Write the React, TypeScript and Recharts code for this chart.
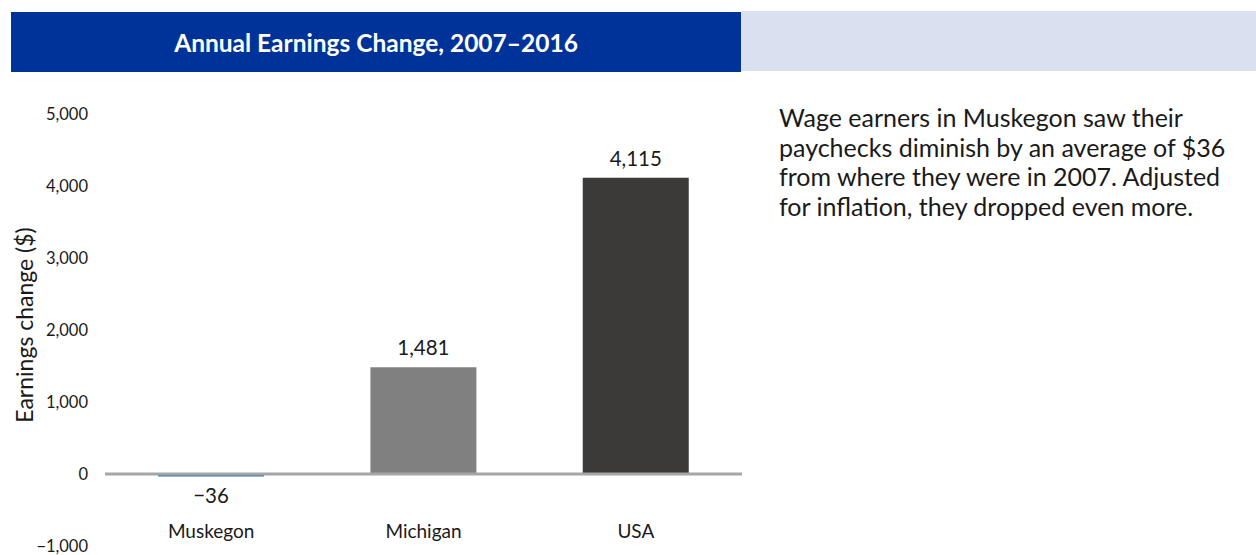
import { BarChart, Bar, XAxis, YAxis, Cell, LabelList, ReferenceLine } from 'recharts';

const regions = ['Muskegon', 'Michigan', 'USA'];
const earningsChange = [-36, 1481, 4115];
const barColors = ['#2E75B6', '#808080', '#3B3A38'];
const yTicks = [-1000, 0, 1000, 2000, 3000, 4000, 5000];

const chartData = regions.map((region, i) => ({ region, change: earningsChange[i] }));

const FONT = 'Lato, "Open Sans", sans-serif';

const fmt = (v: number) => {
  const s = Math.abs(v).toLocaleString('en-US');
  return v < 0 ? `\u2212${s}` : s;
};

const CategoryTick = (props: any) => {
  const { x, y, payload } = props;
  return (
    <text x={x} y={y} dy={-16} textAnchor="middle" fill="#1a1a1a" fontSize={19} fontFamily={FONT}>
      {payload.value}
    </text>
  );
};

export default function App() {
  return (
    <div style={{ position: 'absolute', left: 0, top: 0, width: 1256, height: 555, background: '#fff', fontFamily: FONT }}>
      <div
        style={{
          position: 'absolute', left: 11, top: 12, width: 730, height: 60, background: '#003399',
          color: '#fff', fontWeight: 700, fontSize: 24.5, display: 'flex', alignItems: 'center', justifyContent: 'center',
        }}
      >
        Annual Earnings Change, 2007–2016
      </div>
      <div style={{ position: 'absolute', left: 741, top: 11, width: 515, height: 60, background: '#D9E0EF' }} />
      <div style={{ position: 'absolute', left: 779, top: 103, width: 475, fontSize: 25, lineHeight: '29.5px', color: '#1a1a1a' }}>
        Wage earners in Muskegon saw their<br />
        paychecks diminish by an average of $36<br />
        from where they were in 2007. Adjusted<br />
        for inflation, they dropped even more.
      </div>
      <div style={{ position: 'absolute', left: 0, top: 0 }}>
        <BarChart
          width={760}
          height={555}
          data={chartData}
          margin={{ top: 114, right: 18, bottom: 0, left: 0 }}
          barCategoryGap="25%"
        >
          <XAxis dataKey="region" height={9} axisLine={false} tickLine={false} tick={<CategoryTick />} interval={0} />
          <YAxis
            width={105}
            domain={[-1000, 5000]}
            ticks={yTicks}
            interval={0}
            tickFormatter={fmt}
            axisLine={false}
            tickLine={false}
            tickMargin={11}
            tick={{ fill: '#1a1a1a', fontSize: 16.5, fontFamily: FONT }}
            label={{
              value: 'Earnings change ($)', angle: -90, position: 'center', dx: -28, dy: -5,
              style: { fill: '#1a1a1a', fontSize: 23, fontFamily: FONT, textAnchor: 'middle' },
            }}
          />
          <Bar dataKey="change" isAnimationActive={false}>
            {chartData.map((d, i) => (
              <Cell key={d.region} fill={barColors[i]} />
            ))}
            <LabelList dataKey="change" position="top" offset={12} formatter={fmt} fill="#1a1a1a" fontSize={20.5} fontFamily={FONT} />
          </Bar>
          <ReferenceLine y={0} stroke="#A6A6A6" strokeWidth={3} />
        </BarChart>
      </div>
    </div>
  );
}
